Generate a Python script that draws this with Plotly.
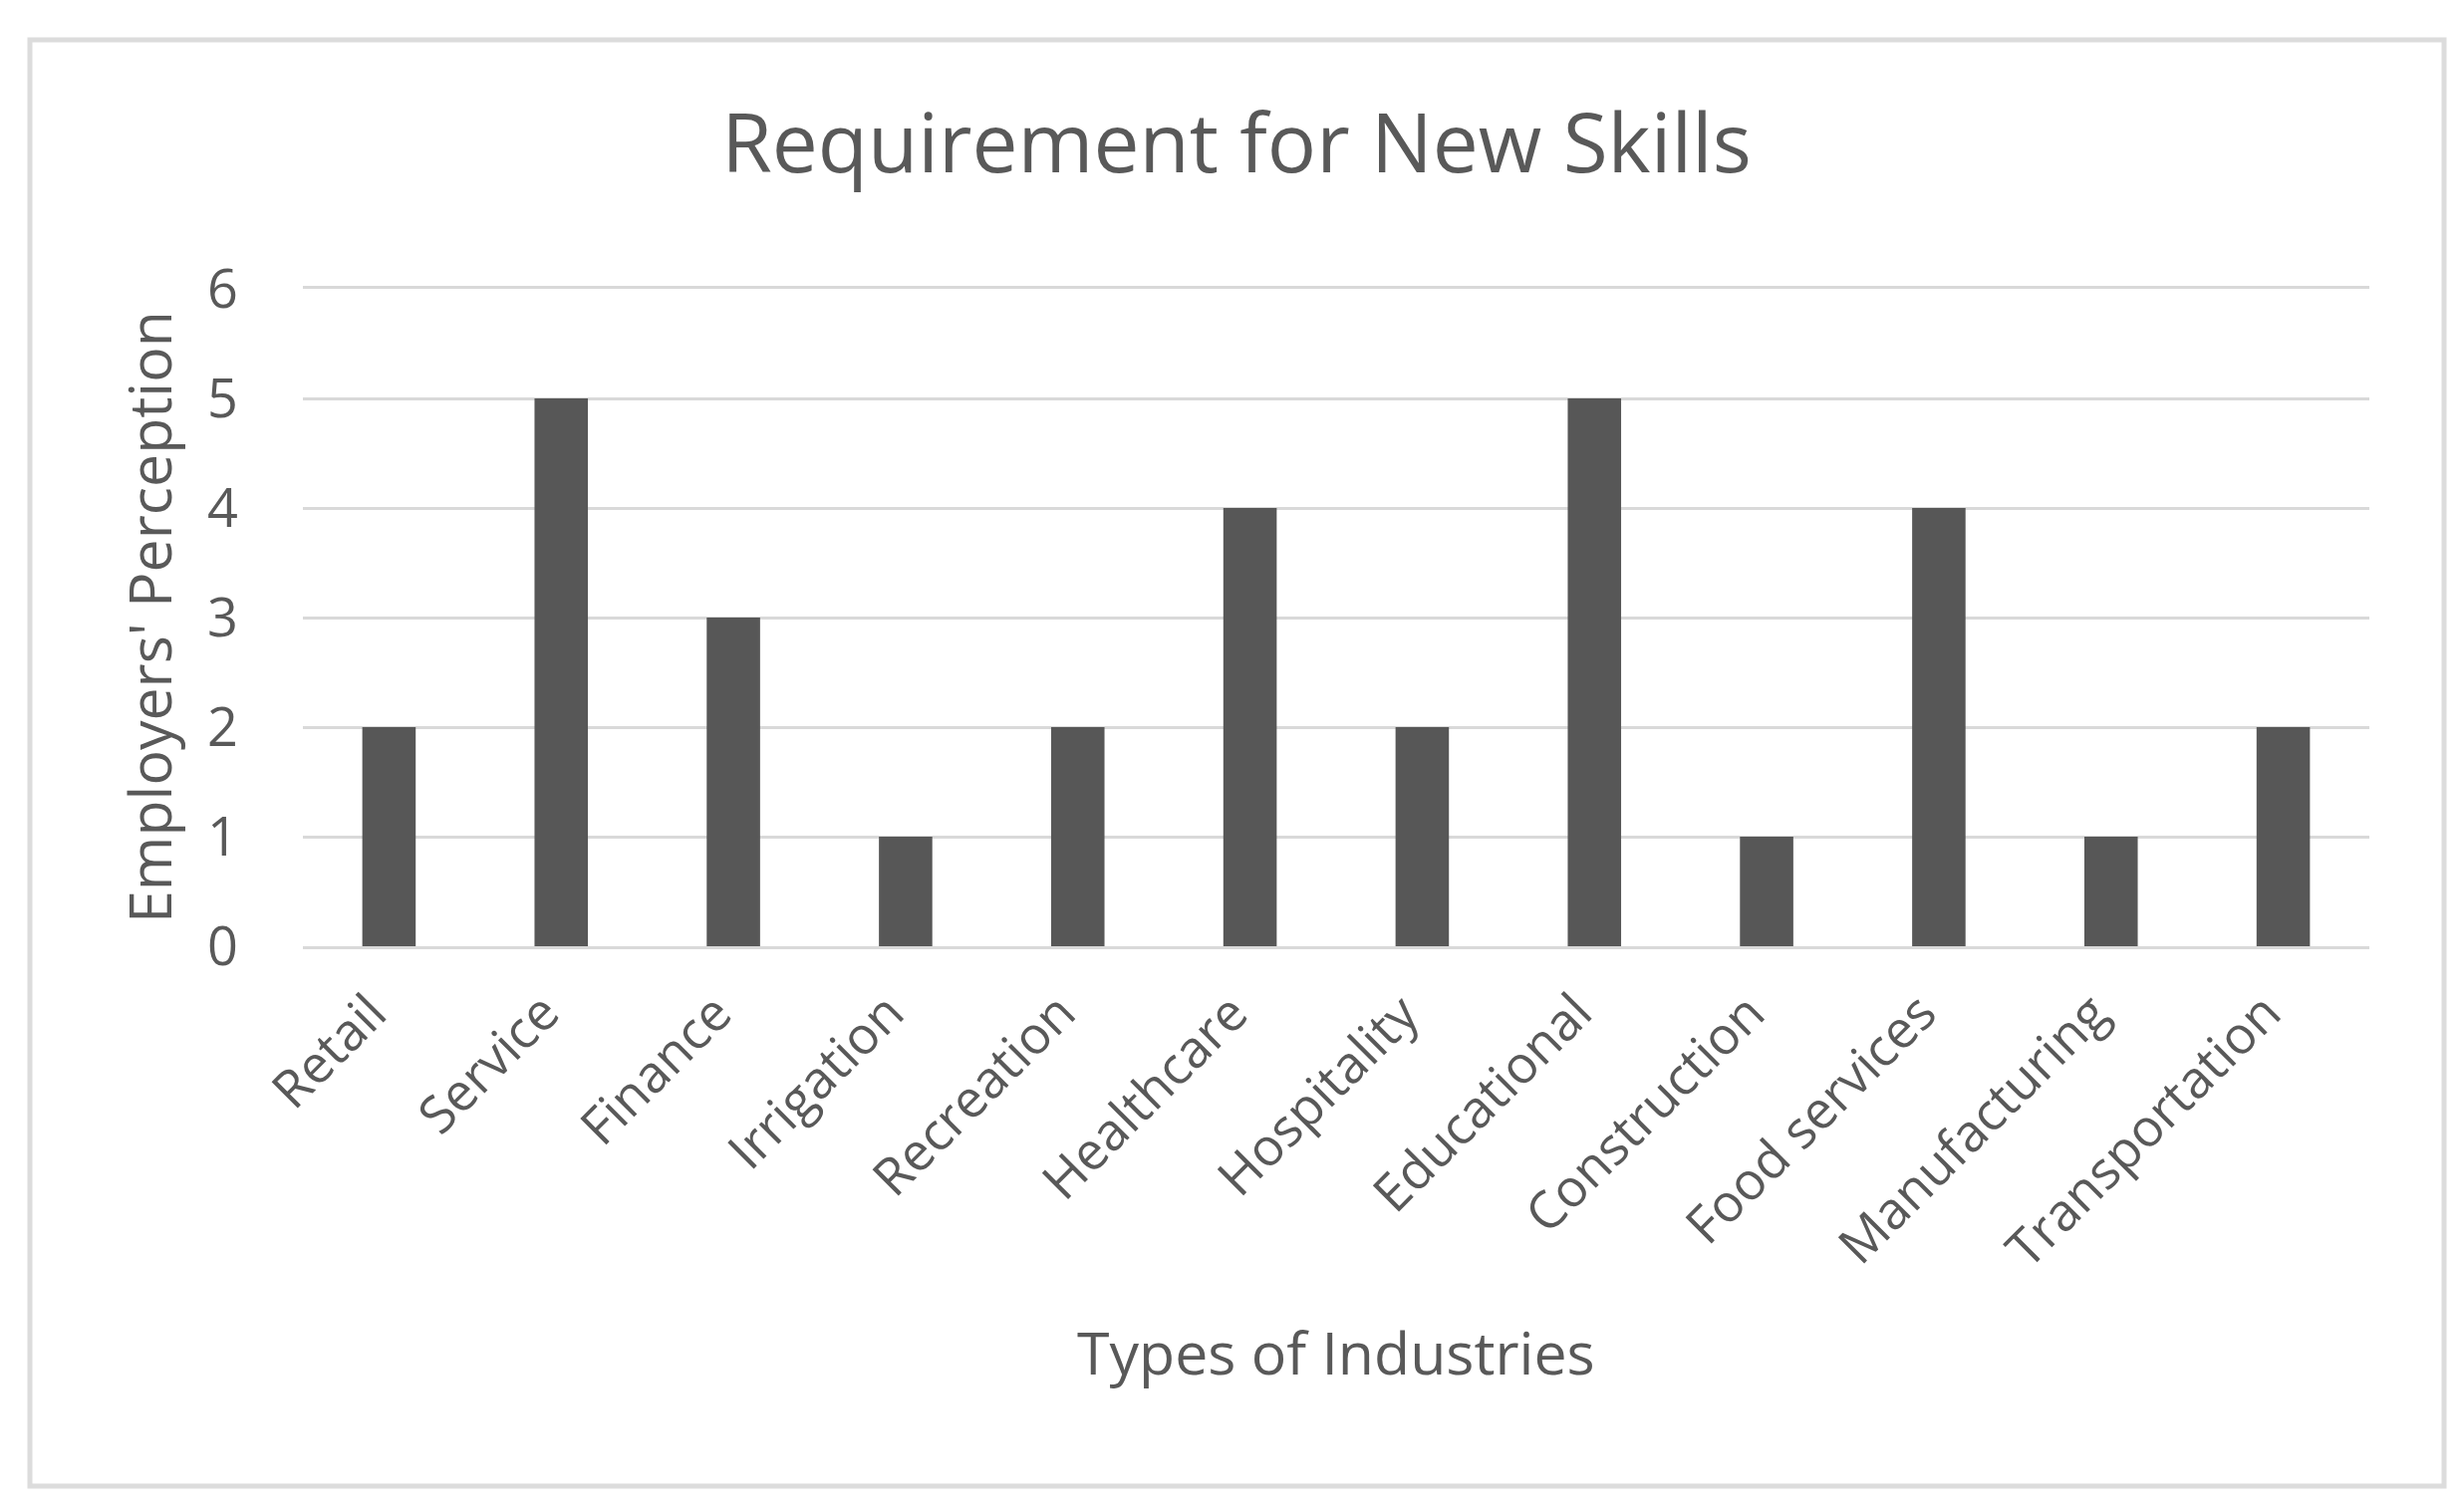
"""
Requirement for New Skills - bar chart recreation.
"""

import plotly.graph_objects as go

industries = [
    "Retail", "Service", "Finance", "Irrigation", "Recreation", "Healthcare",
    "Hospitality", "Educational", "Construction", "Food services",
    "Manufacturing", "Transportation",
]
perception = [2, 5, 3, 1, 2, 4, 2, 5, 1, 4, 1, 2]
y_ticks = [0, 1, 2, 3, 4, 5, 6]

TEXT = "#595959"
GRID = "#d9d9d9"
FONT = "Open Sans"

W, H = 2473, 1513
L, R, T, B = 296, 103, 282, 571
pw, ph = W - L - R, H - T - B


def px_x(x):
    return (x - L) / pw


def px_y(y):
    return (H - B - y) / ph


fig = go.Figure(
    go.Bar(
        x=industries,
        y=perception,
        marker=dict(color="#575757", line=dict(width=0)),
    )
)

fig.update_layout(
    width=W,
    height=H,
    margin=dict(l=L, r=R, t=T, b=B),
    paper_bgcolor="white",
    plot_bgcolor="white",
    bargap=0.69,
    showlegend=False,
    font=dict(family=FONT, color=TEXT),
    title=dict(
        text="Requirement for New Skills",
        x=1233 / W,
        xref="container",
        xanchor="center",
        y=1 - 136 / H,
        yref="container",
        yanchor="middle",
        font=dict(size=82, color=TEXT, family=FONT),
    ),
)

# x axis line mirrored gives the 0 and 6 gridlines
fig.update_xaxes(
    range=[-0.5, len(industries) - 0.5],
    showticklabels=False,
    showgrid=False,
    showline=True,
    mirror=True,
    linecolor=GRID,
    linewidth=3,
    zeroline=False,
)

fig.update_yaxes(
    range=[0, 6],
    tickvals=y_ticks,
    tickfont=dict(size=54, color=TEXT),
    ticklabelstandoff=64,
    showgrid=True,
    gridcolor=GRID,
    gridwidth=3,
    zeroline=False,
    showline=False,
)

# category labels, rotated, ending just under each bar
for name in industries:
    fig.add_annotation(
        text=name,
        xref="x", yref="paper",
        x=name, y=px_y(970),
        xanchor="right", yanchor="top",
        xshift=14,
        textangle=-45,
        showarrow=False,
        font=dict(size=52, color=TEXT),
    )

fig.add_annotation(
    text="Employers' Perception",
    xref="paper", yref="paper",
    x=px_x(141), y=0.5,
    xanchor="center", yanchor="middle",
    textangle=-90,
    showarrow=False,
    font=dict(size=59, color=TEXT),
)

fig.add_annotation(
    text="Types of Industries",
    xref="paper", yref="paper",
    x=px_x(1333), y=px_y(1349),
    xanchor="center", yanchor="middle",
    showarrow=False,
    font=dict(size=59, color=TEXT),
)

# outer chart frame
fig.add_shape(
    type="rect",
    xref="paper", yref="paper",
    x0=px_x(22), x1=px_x(2445),
    y0=px_y(1484), y1=px_y(32),
    line=dict(color="#dcdcdc", width=5),
    layer="below",
)

fig.write_html("out.html")
